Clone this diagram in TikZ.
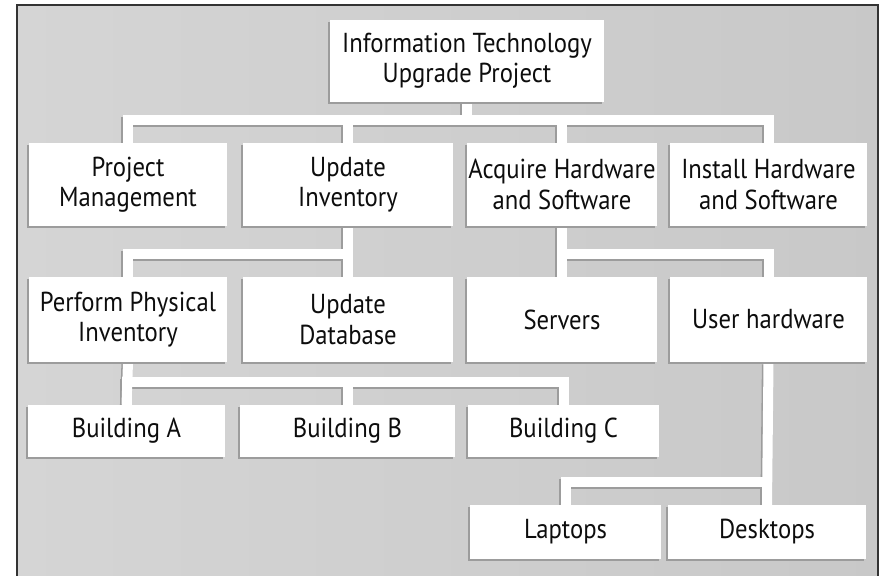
\documentclass[tikz,border=0pt]{standalone}
\usepackage{fontspec}
\setmainfont[FakeStretch=0.9]{PT Sans}
\usetikzlibrary{backgrounds,shadows}

\tikzset{
  box/.style={fill=white, text=black!95, align=center, inner sep=0pt,
    font=\fontsize{19.5}{21.5}\selectfont,
    drop shadow={shadow xshift=-0.04cm, shadow yshift=-0.05cm, fill=gray!78, opacity=1}},
  bar/.style={line width=0.25cm},
}

\begin{document}
\begin{tikzpicture}[x=0.025cm, y=-0.025cm]
  \useasboundingbox (0,0) rectangle (881,575);
  % project
  \node[box, minimum width=6.85cm, minimum height=2.05cm] (root) at (467,61) {Information Technology\\Upgrade Project};
  % first level
  \node[box, minimum width=4.95cm, minimum height=2.075cm] (pm) at (128,184.5) {Project\\Management};
  \node[box, minimum width=5.25cm, minimum height=2.075cm] (ui) at (348,184.5) {Update\\Inventory};
  \node[box, minimum width=4.75cm, minimum height=2.075cm] (ah) at (562,184.5) {Acquire Hardware\\and Software};
  \node[box, minimum width=4.925cm, minimum height=2.075cm] (ih) at (768.5,184.5) {Install Hardware\\and Software};
  % second level
  \node[box, minimum width=4.95cm, minimum height=2.125cm] (ppi) at (128,319.5) {Perform Physical\\Inventory};
  \node[box, minimum width=5.25cm, minimum height=2.125cm] (ud) at (348,319.5) {Update\\Database};
  \node[box, minimum width=4.75cm, minimum height=2.125cm] (sv) at (562,319.5) {Servers};
  \node[box, minimum width=4.925cm, minimum height=2.125cm] (uh) at (768.5,319.5) {User hardware};
  % buildings
  \node[box, minimum width=4.925cm, minimum height=1.3cm] (ba) at (126.5,431) {Building A};
  \node[box, minimum width=5.375cm, minimum height=1.3cm] (bb) at (347.5,431) {Building B};
  \node[box, minimum width=4.775cm, minimum height=1.3cm] (bc) at (563.5,431) {Building C};
  % user hardware
  \node[box, minimum width=4.775cm, minimum height=1.35cm] (lt) at (565.5,532) {Laptops};
  \node[box, minimum width=4.95cm, minimum height=1.35cm] (dt) at (767,532) {Desktops};

  \begin{scope}[on background layer]
    \fill[left color=gray!33, right color=gray!43] (17,5) rectangle (878,575);
    \draw[black!80, line width=0.04cm] (17,580) -- (17,5) -- (878,5) -- (878,580);
    % white bars, shadow first
    \foreach \c/\dx/\dy in {gray!78/-0.04/-0.05, white/0/0} {
      \begin{scope}[draw=\c, transform canvas={xshift=\dx cm, yshift=\dy cm}]
        \draw[bar] (root.south) -- ++(0,18);
        \draw[bar] (pm.north) -- ++(0,-23) -| (ih.north);
        \draw[bar] (ui.north) -- ++(0,-23);
        \draw[bar] (ah.north) -- ++(0,-23);
        \draw[bar] (ui.south) -- (ud.north);
        \draw[bar] (ppi.north) -- ++(0,-23) -| (ud.north);
        \draw[bar] (ah.south) -- (sv.north);
        \draw[bar] (sv.north) -- ++(0,-23) -| (uh.north);
        \draw[bar] (ppi.south) -- (ba.north);
        \draw[bar] (ba.north) -- ++(0,-23) -| (bc.north);
        \draw[bar] (bb.north) -- ++(0,-23);
        \draw[bar] (uh.south) -- (dt.north);
        \draw[bar] (lt.north) -- ++(0,-23) -| (dt.north);
      \end{scope}
    }
  \end{scope}
\end{tikzpicture}
\end{document}
